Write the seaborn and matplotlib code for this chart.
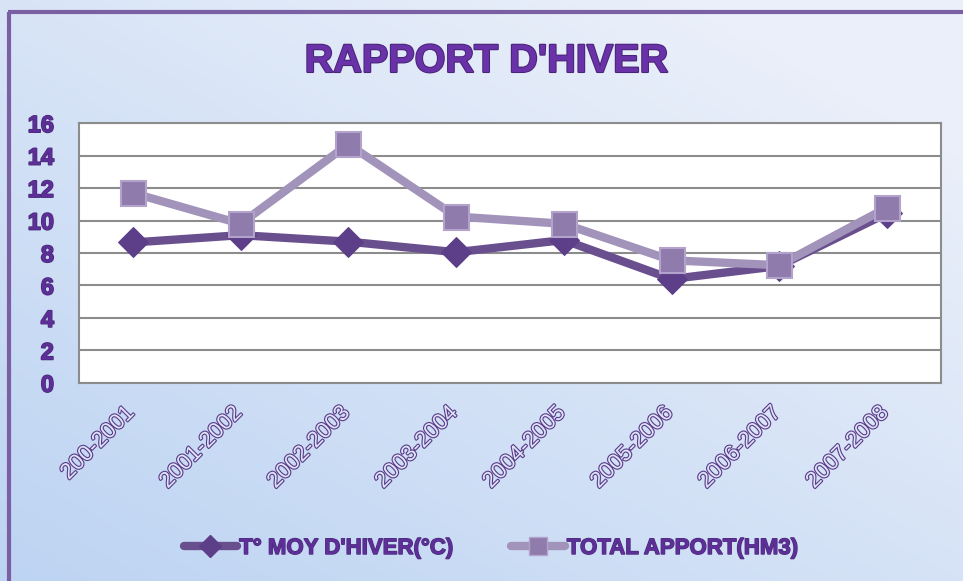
import numpy as np
import pandas as pd
import seaborn as sns
import matplotlib.pyplot as plt
import matplotlib.patheffects as pe
from matplotlib.lines import Line2D
from matplotlib.transforms import ScaledTranslation

saisons = ['200-2001', '2001-2002', '2002-2003', '2003-2004',
           '2004-2005', '2005-2006', '2006-2007', '2007-2008']
temp_moy = [8.65, 9.1, 8.7, 8.05, 8.8, 6.4, 7.2, 10.45]
apport_total = [11.7, 9.8, 14.7, 10.25, 9.8, 7.55, 7.25, 10.8]
y_ticks = [0, 2, 4, 6, 8, 10, 12, 14, 16]

lbl_temp = "T° MOY D'HIVER(°C)"
lbl_apport = 'TOTAL APPORT(HM3)'

df = pd.DataFrame({'saison': saisons * 2,
                   'valeur': temp_moy + apport_total,
                   'serie': [lbl_temp] * 8 + [lbl_apport] * 8})

sns.set_theme(style='white')
fam = ['Liberation Sans Narrow', 'Liberation Sans', 'DejaVu Sans']
plt.rcParams['font.family'] = fam

purple_txt = '#5f2f99'
c_dark = '#6a4f8e'
c_light = '#a293bb'

fig = plt.figure(figsize=(9.63, 5.81), dpi=100)

# gradient background
bg = fig.add_axes([0, 0, 1, 1], zorder=-10)
xx, yy = np.meshgrid(np.linspace(0, 1, 200), np.linspace(0, 1, 120))
t = np.clip(0.55 * xx + 0.6 * (1 - yy), 0, 1)
c0 = np.array([0.74, 0.83, 0.95])
c1 = np.array([0.92, 0.94, 0.98])
img = c0[None, None, :] * (1 - t[..., None]) + c1[None, None, :] * t[..., None]
bg.imshow(img, aspect='auto', extent=[0, 1, 0, 1], origin='upper')
bg.plot([0.0095, 0.0095], [0, 0.979], color='#7a5fa3', lw=3, solid_capstyle='butt')
bg.plot([0.008, 1.0], [0.979, 0.979], color='#7a5fa3', lw=3, solid_capstyle='butt')
bg.set_xlim(0, 1)
bg.set_ylim(0, 1)
bg.axis('off')

ax = fig.add_axes([0.082, 0.341, 0.895, 0.447])
ax.set_facecolor('white')

sns.lineplot(data=df[df.serie == lbl_temp], x='saison', y='valeur', ax=ax,
             color=c_dark, lw=6, marker='D', markersize=15,
             markerfacecolor='#5c3f88', markeredgecolor='#5c3f88', sort=False, zorder=3)
sns.lineplot(data=df[df.serie == lbl_apport], x='saison', y='valeur', ax=ax,
             color=c_light, lw=6, marker='s', markersize=18,
             markerfacecolor='#8f7bac', markeredgecolor='#b3a3cc', markeredgewidth=1.5,
             sort=False, zorder=4)

ax.set_xlim(-0.5, 7.5)
ax.set_ylim(0, 16)
ax.set_yticks(y_ticks)
ax.yaxis.grid(True, color='#8c8c8c', lw=1.5)
ax.set_axisbelow(True)
for s in ax.spines.values():
    s.set_color('#8c8c8c')
    s.set_linewidth(1.5)
ax.set_xlabel('')
ax.set_ylabel('')
ax.tick_params(axis='y', length=0, pad=18)
ax.tick_params(axis='x', length=0, pad=14)

for lab in ax.get_yticklabels():
    lab.set_fontsize(17)
    lab.set_fontweight('bold')
    lab.set_color(purple_txt)
    lab.set_path_effects([pe.withStroke(linewidth=1.2, foreground='#4a2a7a')])

shift = ScaledTranslation(6 / 100, 0, fig.dpi_scale_trans)
for lab in ax.get_xticklabels():
    lab.set_rotation(45)
    lab.set_ha('right')
    lab.set_va('top')
    lab.set_fontsize(16)
    lab.set_color('#dde4f5')
    lab.set_transform(lab.get_transform() + shift)
    lab.set_path_effects([pe.Stroke(linewidth=1.6, foreground='#5a3a8a'), pe.Normal()])

fig.text(0.505, 0.895, "RAPPORT D'HIVER", ha='center', va='center',
         fontsize=28.5, fontweight='bold', color='#6a32a8',
         path_effects=[pe.Stroke(linewidth=1.5, foreground='#4a2478'), pe.Normal()])

handles = [
    Line2D([], [], color=c_dark, lw=6, marker='D', markersize=11,
           markerfacecolor='#5c3f88', markeredgecolor='#5c3f88'),
    Line2D([], [], color=c_light, lw=6, marker='s', markersize=13,
           markerfacecolor='#8f7bac', markeredgecolor='#b3a3cc'),
]
leg = fig.legend(handles, [lbl_temp, lbl_apport], loc='center', ncol=2,
                 bbox_to_anchor=(0.51, 0.056), frameon=False, handlelength=2.4,
                 handletextpad=0.1, columnspacing=2.6,
                 prop={'family': fam, 'weight': 'bold', 'size': 16})
for txt in leg.get_texts():
    txt.set_color(purple_txt)
    txt.set_path_effects([pe.withStroke(linewidth=1.0, foreground='#4a2a7a')])

fig.savefig('out.png', dpi=100)
